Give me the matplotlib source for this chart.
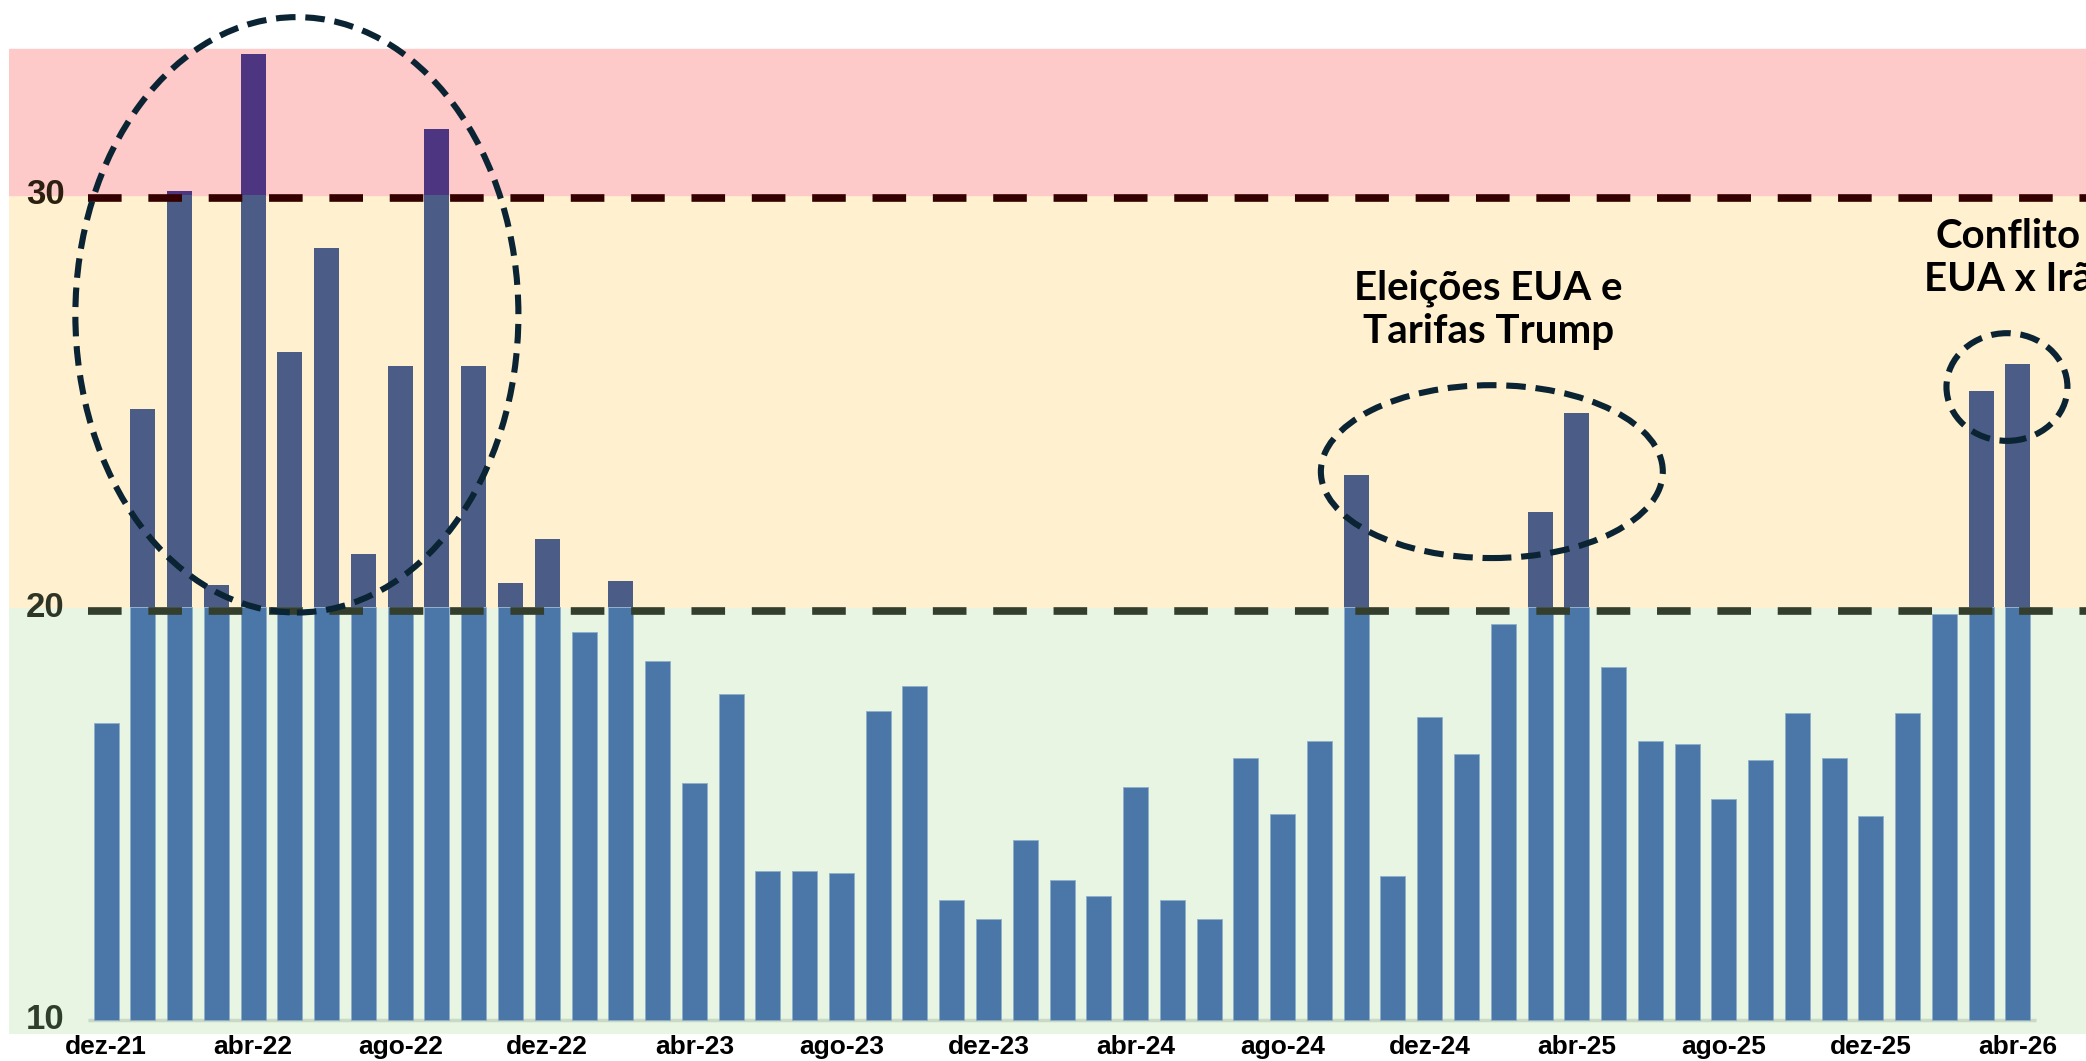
import matplotlib
matplotlib.use("Agg")
import matplotlib.pyplot as plt
from matplotlib.patches import Ellipse

# monthly values, dez-21 .. abr-26
values = [17.2, 24.8, 30.1, 20.55, 33.4, 26.2, 28.7, 21.3, 25.85, 31.6,
          25.85, 20.6, 21.65, 19.4, 20.65, 18.7, 15.75, 17.9, 13.6, 13.6,
          13.55, 17.5, 18.1, 12.9, 12.45, 14.35, 13.4, 13.0, 15.65, 12.9,
          12.45, 16.35, 15.0, 16.75, 23.2, 13.5, 17.35, 16.45, 19.6, 22.3,
          24.7, 18.55, 16.75, 16.7, 15.35, 16.3, 17.45, 16.35, 14.95, 17.45,
          19.85, 25.25, 25.9]
tick_labels = ["dez-21", "abr-22", "ago-22", "dez-22", "abr-23", "ago-23",
               "dez-23", "abr-24", "ago-24", "dez-24", "abr-25", "ago-25",
               "dez-25", "abr-26"]
thresholds = [20, 30]
y_ticks = [10, 20, 30]

W, H = 2086, 1061
fig = plt.figure(figsize=(W / 100, H / 100), dpi=100)
ax = fig.add_axes([9 / W, (H - 1034) / H, 1 - 9 / W, 1034 / H])
ax.set_xlim(-2.64, 53.85)
ax.set_ylim(9.66, 34.72)
ax.axis("off")

# background bands
ax.axhspan(9.66, 20, color="#e7f5e2", zorder=0)
ax.axhspan(20, 30, color="#fff1cf", zorder=0)
ax.axhspan(30, 33.53, color="#fdc9c9", zorder=0)

# bars split by band
x = list(range(len(values)))
low = [min(v, 20) - 10 for v in values]
mid = [max(min(v, 30) - 20, 0) for v in values]
top = [max(v - 30, 0) for v in values]
bw = 0.68
ax.bar(x, low, bottom=10, width=bw, color="#4a76a8", edgecolor="#8fb0cc",
       linewidth=0.6, zorder=2)
ax.bar(x, mid, bottom=20, width=bw, color="#4b5d86", linewidth=0, zorder=2)
ax.bar(x, top, bottom=30, width=bw, color="#4d3582", linewidth=0, zorder=2)

# baseline
ax.hlines(10, -0.5, len(values) - 0.5, color="#c9d9c5", lw=2.5, zorder=1)

# dashed threshold lines
line_cols = {20: "#333f2c", 30: "#340000"}
for t in thresholds:
    ax.hlines(t - 0.08, -0.5, 54, color=line_cols[t], lw=5.5,
              linestyles=(0, (4.4, 3.5)), zorder=3)

# y labels inside plot
lab_cols = {10: "#2f3d2c", 20: "#2e3526", 30: "#2b2010"}
for v in y_ticks:
    ax.text(-1.66, v, str(v), ha="center", va="center", fontsize=25,
            fontweight="bold", family="Liberation Sans", color=lab_cols[v],
            zorder=4)

# x tick labels
for i, lab in enumerate(tick_labels):
    ax.annotate(lab, xy=(i * 4, 0), xycoords=("data", "figure pixels"),
                xytext=(0, 7), textcoords="offset pixels",
                ha="center", va="baseline", fontsize=19, fontweight="bold",
                family="Liberation Sans", color="black", annotation_clip=False)

# ellipses
ell_style = dict(fill=False, edgecolor="#0b2434", lw=4.4,
                 linestyle=(0, (3.2, 1.6)), zorder=5, clip_on=False)
ax.add_patch(Ellipse((5.19, 27.09), 12.05, 14.43, **ell_style))
ax.add_patch(Ellipse((37.69, 23.29), 9.30, 4.19, **ell_style))
ax.add_patch(Ellipse((51.70, 25.34), 3.29, 2.61, **ell_style))

# annotations
ax.text(37.6, 27.22, "Eleições EUA e\nTarifas Trump", ha="center", va="center",
        fontsize=29, fontweight="bold", family="Lato", linespacing=1.2,
        color="black", zorder=6)
ax.text(51.73, 28.47, "Conflito\nEUA x Irã", ha="center", va="center",
        fontsize=29, fontweight="bold", family="Lato", linespacing=1.2,
        color="black", zorder=6, clip_on=False)

fig.savefig("out.png", dpi=100)
